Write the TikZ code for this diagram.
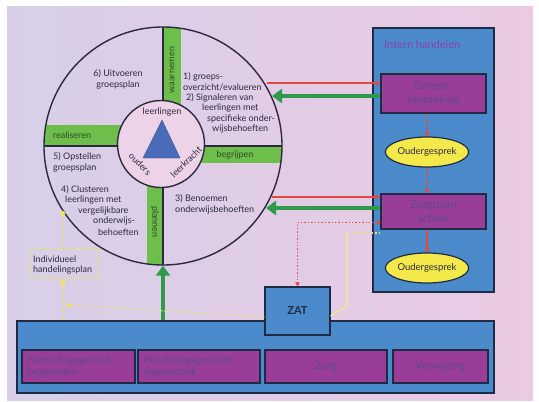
\documentclass[tikz,border=0pt]{standalone}
\usepackage{fontspec}
\setmainfont{Lato}
\usetikzlibrary{arrows.meta,shapes.geometric,calc}
\definecolor{bgL}{HTML}{D7CFE8}
\definecolor{bgR}{HTML}{EBCAE3}
\definecolor{boxblue}{HTML}{4B8BCB}
\definecolor{navy}{HTML}{1F2A44}
\definecolor{purp}{HTML}{9A3D98}
\definecolor{purptext}{HTML}{5C4A88}
\definecolor{ihtext}{HTML}{8E3FA8}
\definecolor{gbar}{HTML}{6DBE4B}
\definecolor{garr}{HTML}{2E9A4A}
\definecolor{redc}{HTML}{E8473D}
\definecolor{yell}{HTML}{F3E94A}
\definecolor{ylin}{HTML}{EDE070}
\definecolor{ydotc}{HTML}{F5EA3C}
\definecolor{innerpink}{HTML}{EDD3E8}
\definecolor{triblue}{HTML}{4A6BB8}
\definecolor{ink}{HTML}{2B2840}
\definecolor{gtextc}{HTML}{2E4A2A}
\begin{document}
\begin{tikzpicture}[x=1pt,y=-1pt,
  qtext/.style={font=\fontsize{9}{10.5}\selectfont, text=ink, inner sep=0pt, anchor=west},
  gtext/.style={font=\fontsize{9}{10.5}\selectfont, text=gtextc, inner sep=0pt},
  ctext/.style={font=\fontsize{9}{10.5}\selectfont, text=ink, inner sep=0pt},
  pbox/.style={draw=navy, fill=purp, line width=1.2pt, inner sep=0pt, text=purptext, align=center, font=\fontsize{11}{13.5}\selectfont},
  ptext/.style={text=purptext, inner sep=0pt, align=left, font=\fontsize{10.5}{12}\selectfont},
  bbox/.style={draw=navy, fill=boxblue, line width=1.2pt, inner sep=0pt},
  ovalbox/.style={ellipse, draw=navy, fill=yell, line width=1.2pt, inner sep=0pt, minimum width=71pt, minimum height=30pt, font=\fontsize{9.5}{11}\selectfont, text=ink},
  redline/.style={draw=redc, line width=1.1pt, -{Triangle[length=4pt,width=4.5pt]}},
  reddot/.style={draw=redc, line width=1.4pt, dotted, -{Triangle[length=4pt,width=4.5pt]}},
  garrow/.style={draw=garr, line width=3.5pt, -{Triangle[length=10pt,width=14pt]}},
  ydot/.style={draw=ylin, line width=1.3pt, dotted},
  ytip/.style={-{Circle[length=4.5pt,fill=ydotc,color=ydotc]}}
]
\useasboundingbox (0,0) rectangle (539,402);
\fill[white] (0,0) rectangle (539,402);
\shade[left color=bgL, right color=bgR] (7,6) rectangle (533,400);

% ---- cycle ----
\begin{scope}
  \clip (163,146) circle (119pt);
  \fill[gbar] (163,20) rectangle (181,146);
  \fill[gbar] (30,125) rectangle (163,146);
  \fill[gbar] (163,146) rectangle (290,163);
  \fill[gbar] (147,146) rectangle (163,270);
  \draw[line width=1.3pt, ink] (163,20) -- (163,270);
  \draw[line width=1.3pt, ink] (30,146) -- (290,146);
\end{scope}
\node[circle, draw=ink, line width=1.4pt, minimum size=238pt, inner sep=0pt] (cyc) at (163,146) {};
\node[circle, draw=ink, fill=innerpink, line width=1.4pt, minimum size=87pt, inner sep=0pt] (inner) at (161,144) {};
\filldraw[fill=triblue, draw=triblue!75!black, line width=0.4pt] (162,120) -- (143,158) -- (180,158) -- cycle;
\node[ctext] (lleer) at (162,112) {leerlingen};
\node[ctext, rotate=-45] (louders) at (140,164) {ouders};
\node[ctext, rotate=45] (lkracht) at (186,162) {leerkracht};

\node[gtext, rotate=90] (lwaar) at (172,70) {waarnemen};
\node[gtext] (lreal) at (72,135) {realiseren};
\node[gtext] (lbegr) at (235,155) {begrijpen};
\node[gtext, rotate=-90] (lplan) at (155,222) {plannen};

% quadrant texts
\node[ctext, align=center] (q6) at (118,79.5) {6) Uitvoeren\\groepsplan};
\node[qtext] (q1a) at (183,77) {1) groeps-};
\node[qtext] (q1b) at (183,87.5) {overzicht/evalueren};
\node[qtext] (q2a) at (186,98) {2) Signaleren van};
\node[qtext] (q2b) at (202,108.5) {leerlingen met};
\node[qtext] (q2c) at (207,119) {specifieke onder-};
\node[qtext] (q2d) at (212,129.5) {wijsbehoeften};
\node[qtext, align=left] (q5) at (53,162.5) {5) Opstellen\\groepsplan};
\node[qtext] (q4a) at (61,190) {4) Clusteren};
\node[qtext] (q4b) at (65,200.5) {leerlingen met};
\node[qtext] (q4c) at (78,211) {vergelijkbare};
\node[qtext] (q4d) at (93,221.5) {onderwijs-};
\node[qtext] (q4e) at (98,232) {behoeften};
\node[qtext, align=left] (q3) at (175,204.5) {3) Benoemen\\onderwijsbehoeften};

% ---- right: intern handelen ----
\node[bbox, minimum width=121pt, minimum height=264pt] (intern) at (433.5,160) {};
\node[anchor=west, inner sep=0pt, text=ihtext, font=\fontsize{11}{13}\selectfont] (ihl) at (384,44) {Intern handelen};
\node[pbox, minimum width=105pt, minimum height=39pt] (groeps) at (433.5,93.5) {Groeps-\\bespreking};
\node[ovalbox] (oud1) at (427,152) {Oudergesprek};
\node[pbox, minimum width=105pt, minimum height=35pt] (zorgteam) at (433.5,211.5) {Zorgteam\\school};
\node[ovalbox] (oud2) at (427,268) {Oudergesprek};

\draw[reddot] (groeps.south -| oud1.north) -- (oud1.north);
\draw[reddot] (oud1.south) -- (oud1.south |- zorgteam.north);
\draw[redline] (zorgteam.south -| oud2.north) -- (oud2.north);

% ---- bottom box ----
\node[bbox, minimum width=477pt, minimum height=72pt] (bottom) at (255.5,357) {};
\node[pbox, minimum width=113pt, minimum height=33pt] (b1) at (78.5,366.5) {};
\node[ptext, anchor=west] (b1t) at ($(b1.west)+(6,0)$) {Handelingsgericht\\begeleiden};
\node[pbox, minimum width=122pt, minimum height=33pt] (b2) at (199,366.5) {};
\node[ptext, anchor=west] (b2t) at ($(b2.west)+(6,0)$) {Handelingsgerichte\\diagnostiek};
\node[pbox, minimum width=122pt, minimum height=33pt] (b3) at (326,366.5) {Zorg};
\node[pbox, minimum width=95pt, minimum height=33pt] (b4) at (440.5,366.5) {Verwijzing};

% ZAT
\node[bbox, minimum width=65pt, minimum height=48pt, text=navy, font=\bfseries\fontsize{11}{13}\selectfont] (zat) at (297.5,311) {ZAT};

% ---- connectors circle <-> boxes ----
\coordinate (a1) at (267,83);
\draw[redline] (a1) -- (a1 -| groeps.west);
\coordinate (g1) at (272,96);
\draw[garrow] (g1 -| groeps.west) -- (g1);
\coordinate (a2) at (272,197);
\draw[redline] (a2) -- (a2 -| zorgteam.west);
\coordinate (g2) at (266,208);
\draw[garrow] (g2 -| zorgteam.west) -- (g2);
\coordinate (d1) at ($(zorgteam.south west)+(0,-7)$);
\draw[reddot, {Circle[length=4pt,fill=redc]}-{Triangle[length=4pt,width=4.5pt]}] (d1) -| (zat.north);

% yellow from intern to ZAT
\coordinate (y0) at (380,233);
\coordinate (y1) at (347,233);
\coordinate (y2) at (347,306);
\draw[ydot] (y0) -- (y1);
\draw[draw=ylin!75!white, line width=1.5pt] (y1) -- (y2) -- ($(zat.east)+(0,5)$);

% green arrow up
\draw[garrow] (bottom.north -| cyc.south) -- (cyc.south);

% individueel handelingsplan
\node[draw=ylin, dotted, line width=1.2pt, minimum width=69pt, minimum height=29pt, inner sep=0pt] (ihp) at (64.5,263.5) {};
\node[anchor=west, inner sep=0pt, align=left, text=ink, font=\fontsize{9}{10}\selectfont] (ihpt) at (33,265) {Individueel\\handelingsplan};
\coordinate (c1) at (63,211);
\draw[ydot, ytip] (ihp.north -| c1) -- (c1);
\coordinate (c2) at (63,283);
\draw[ydot] (bottom.north -| c2) -- (ihp.south -| c2);
\fill[ydotc] (c2) circle (2.3pt);
\coordinate (c3) at (67,305);
\draw[ydot, ytip] ($(zat.west)+(0,6)$) -- (c3);
\end{tikzpicture}
\end{document}
